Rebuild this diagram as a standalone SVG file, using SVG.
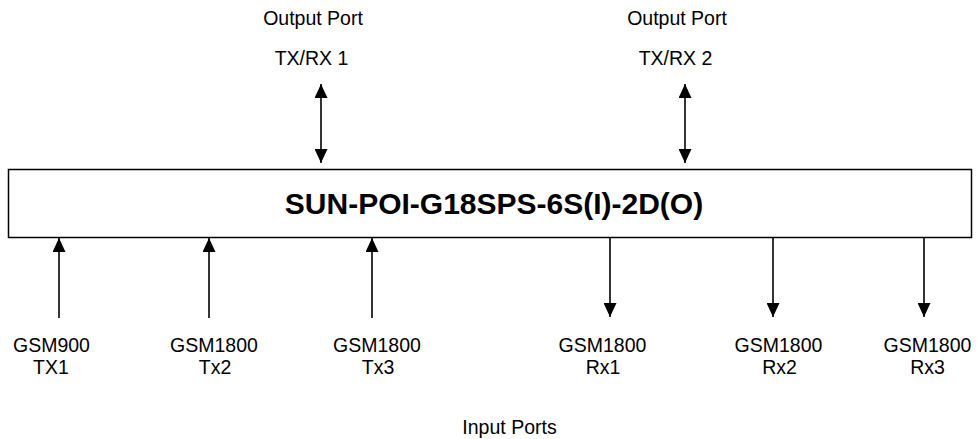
<svg xmlns="http://www.w3.org/2000/svg" width="978" height="439" viewBox="0 0 978 439">
<defs>
<marker id="ah" viewBox="0 0 14 13" refX="14" refY="6.5" markerWidth="14" markerHeight="13" markerUnits="userSpaceOnUse" orient="auto-start-reverse">
<path d="M0,0 L14,6.5 L0,13 Z" fill="#000"/>
</marker>
<style>
text{font-family:"Liberation Sans",Arial,sans-serif;font-size:19.5px;fill:#000;text-anchor:middle}
.t{font-size:30px;font-weight:bold}
.c{stroke:#000;stroke-width:1.6;fill:none}
</style>
</defs>
<rect width="978" height="439" fill="#fff"/>
<g id="box">
<rect x="8.5" y="169.5" width="963" height="68" fill="#fff" stroke="#000" stroke-width="1.5"/>
<text class="t" x="494" y="214">SUN-POI-G18SPS-6S(I)-2D(O)</text>
</g>
<g id="out1"><text x="313" y="25">Output Port</text><text x="311.5" y="65">TX/RX 1</text></g>
<g id="out2"><text x="677" y="25">Output Port</text><text x="675.5" y="65">TX/RX 2</text></g>
<g id="in1"><text x="51.5" y="352">GSM900</text><text x="51" y="374">TX1</text></g>
<g id="in2"><text x="214" y="352">GSM1800</text><text x="215" y="374">Tx2</text></g>
<g id="in3"><text x="377" y="352">GSM1800</text><text x="378" y="374">Tx3</text></g>
<g id="in4"><text x="602.5" y="352">GSM1800</text><text x="603" y="374">Rx1</text></g>
<g id="in5"><text x="778.5" y="352">GSM1800</text><text x="779.5" y="374">Rx2</text></g>
<g id="in6"><text x="927.5" y="352">GSM1800</text><text x="927.5" y="374">Rx3</text></g>
<g id="lbl"><text x="509.5" y="434">Input Ports</text></g>
<g id="connectors">
<line class="c" x1="321" y1="84" x2="321" y2="163" marker-start="url(#ah)" marker-end="url(#ah)"/>
<line class="c" x1="685" y1="84" x2="685" y2="163" marker-start="url(#ah)" marker-end="url(#ah)"/>
<line class="c" x1="59" y1="318" x2="59" y2="238" marker-end="url(#ah)"/>
<line class="c" x1="209" y1="318" x2="209" y2="238" marker-end="url(#ah)"/>
<line class="c" x1="372" y1="318" x2="372" y2="238" marker-end="url(#ah)"/>
<line class="c" x1="610" y1="238" x2="610" y2="317" marker-end="url(#ah)"/>
<line class="c" x1="773" y1="238" x2="773" y2="317" marker-end="url(#ah)"/>
<line class="c" x1="924" y1="238" x2="924" y2="317" marker-end="url(#ah)"/>
</g>
</svg>
